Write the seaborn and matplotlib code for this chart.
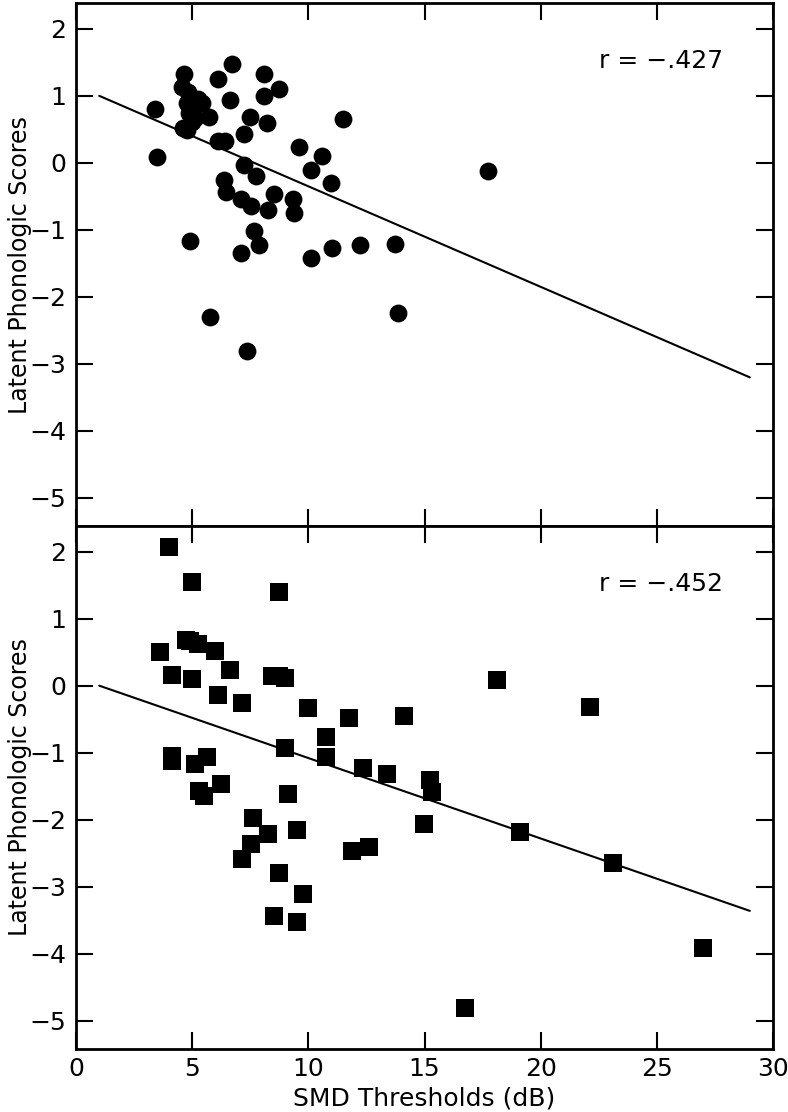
import numpy as np
import pandas as pd
import matplotlib
matplotlib.use("Agg")
import matplotlib.pyplot as plt
import seaborn as sns

# Верхняя панель (круги)
top_x = [3.39, 3.50, 4.63, 4.54, 4.84, 5.23, 4.76, 5.44, 4.88, 5.14, 5.71, 4.59,
         4.76, 5.01, 6.12, 6.72, 6.61, 8.11, 8.11, 8.72, 7.49, 8.22, 7.25, 6.10,
         6.42, 11.47, 9.61, 10.59, 10.12, 10.99, 7.25, 7.75, 6.36, 6.46, 7.11,
         7.51, 8.25, 8.50, 9.33, 9.36, 7.64, 7.87, 7.11, 4.89, 10.12, 11.00,
         12.23, 13.73, 17.75, 5.75, 7.37, 13.87]
top_y = [0.80, 0.09, 1.32, 1.13, 1.06, 0.95, 0.89, 0.89, 0.74, 0.67, 0.68, 0.52,
         0.49, 0.61, 1.25, 1.48, 0.94, 1.32, 1.00, 1.10, 0.69, 0.60, 0.43, 0.33,
         0.32, 0.65, 0.23, 0.10, -0.10, -0.30, -0.03, -0.19, -0.25, -0.44, -0.54,
         -0.65, -0.70, -0.46, -0.54, -0.75, -1.01, -1.23, -1.35, -1.16, -1.42, -1.27,
         -1.23, -1.21, -0.12, -2.30, -2.80, -2.24]

# Нижняя панель (квадраты)
bottom_x = [4.01, 5.01, 8.75, 3.63, 4.74, 4.91, 5.24, 5.99, 4.14, 5.00, 6.62, 6.13,
            7.13, 8.42, 8.75, 9.01, 9.99, 11.73, 14.11, 18.12, 10.76, 10.76, 9.00,
            4.13, 4.15, 5.13, 5.62, 12.36, 13.37, 15.24, 15.34, 5.29, 5.50, 6.26,
            9.13, 7.61, 8.25, 9.51, 7.51, 7.13, 14.99, 11.88, 12.59, 8.75, 9.76,
            8.50, 9.51, 16.75, 19.11, 23.11, 26.97, 22.12]
bottom_y = [2.07, 1.55, 1.39, 0.50, 0.68, 0.66, 0.62, 0.51, 0.16, 0.10, 0.23, -0.14,
            -0.26, 0.15, 0.14, 0.12, -0.34, -0.48, -0.46, 0.09, -0.76, -1.06, -0.93,
            -1.05, -1.12, -1.17, -1.07, -1.23, -1.32, -1.40, -1.58, -1.57, -1.64, -1.47,
            -1.61, -1.98, -2.22, -2.16, -2.36, -2.59, -2.07, -2.47, -2.40, -2.80, -3.11,
            -3.44, -3.52, -4.81, -2.18, -2.65, -3.92, -0.32]

# Линии регрессии
fit_range = [1, 29]
top_fit = (1.15, -0.15)       # свободный член, наклон
bottom_fit = (0.12, -0.12)
r_labels = ["r = \u2212.427", "r = \u2212.452"]

sns.set_style("ticks")
plt.rcParams["font.family"] = ["DejaVu Sans"]
plt.rcParams["axes.unicode_minus"] = True
for key in ["text.color", "axes.labelcolor", "xtick.color", "ytick.color"]:
    plt.rcParams[key] = "black"

FS = 18

fig, axes = plt.subplots(2, 1, figsize=(7.88, 11.12), dpi=100, sharex=True)
fig.subplots_adjust(left=0.0965, right=0.981, top=0.997, bottom=0.0567, hspace=0)

panels = [
    (top_x, top_y, "o", top_fit),
    (bottom_x, bottom_y, "s", bottom_fit),
]

for ax, (xs, ys, marker, fit), label in zip(axes, panels, r_labels):
    df = pd.DataFrame({"x": xs, "y": ys})
    sns.scatterplot(data=df, x="x", y="y", marker=marker, color="black",
                    s=165, linewidth=0, ax=ax, zorder=3)

    fx = np.array(fit_range, dtype=float)
    line_df = pd.DataFrame({"x": fx, "y": fit[0] + fit[1] * fx})
    sns.lineplot(data=line_df, x="x", y="y", color="black", linewidth=1.5, ax=ax)

    ax.text(22.5, 1.52, label, fontsize=FS, ha="left", va="center")

    ax.set_xlim(0, 30)
    ax.set_ylim(-5.42, 2.38)
    ax.set_xticks(range(0, 31, 5))
    ax.set_yticks(range(-5, 3))
    ax.set_ylabel("Latent Phonologic Scores", fontsize=17)
    ax.yaxis.set_label_coords(-0.063, 0.5)
    ax.set_xlabel("")
    ax.tick_params(direction="in", length=12, width=1.5, top=True, right=True,
                   labelsize=FS, pad=7)
    for sp in ax.spines.values():
        sp.set_visible(True)
        sp.set_linewidth(2)
        sp.set_color("black")

axes[1].tick_params(axis="x", pad=6)
axes[1].set_xlabel("SMD Thresholds (dB)", fontsize=FS, labelpad=4)

fig.savefig("out.png", dpi=100)
